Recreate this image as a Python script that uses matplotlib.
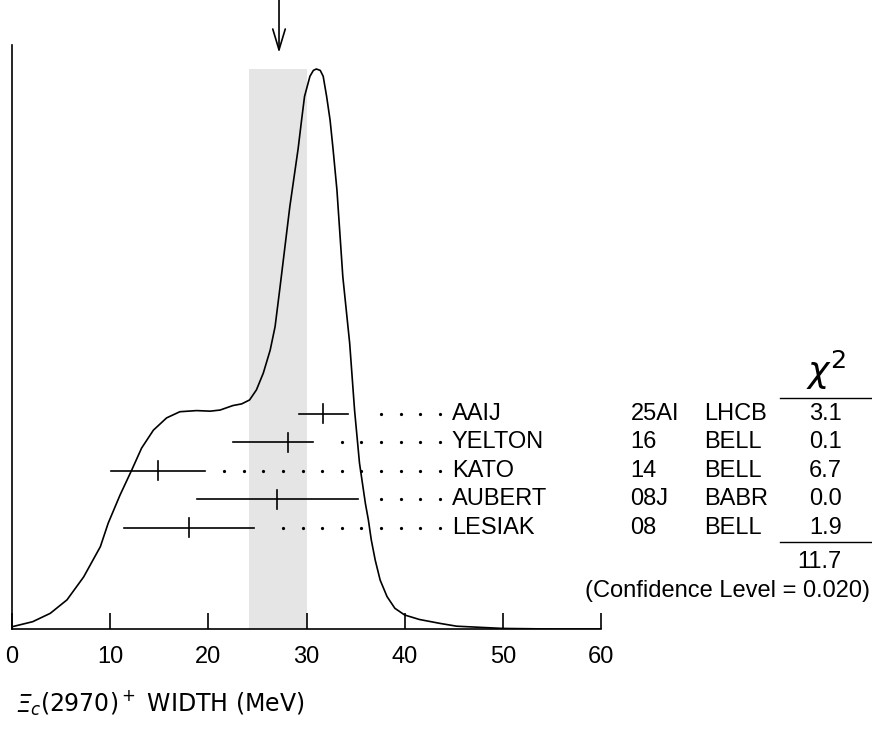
import numpy as np
import matplotlib
matplotlib.use('Agg')
import matplotlib.pyplot as plt

# ------------------------------------------------------------
# Measurements (MeV)
# ------------------------------------------------------------
names = ['AAIJ', 'YELTON', 'KATO', 'AUBERT', 'LESIAK']
years = ['25AI', '16', '14', '08J', '08']
collabs = ['LHCB', 'BELL', 'BELL', 'BABR', 'BELL']
chi2 = [3.1, 0.1, 6.7, 0.0, 1.9]
values = [31.7, 28.1, 14.9, 27.0, 18.0]
err_lo = [2.5, 5.6, 4.8, 8.2, 6.6]
err_hi = [2.5, 2.6, 4.8, 8.2, 6.7]

chi2_total = 11.7
conf_level = 0.020
avg_value = 27.2
band_lo = 24.1
band_hi = 30.1

# ideogram curve (relative height)
curve_x = [0, 2.1, 3.9, 5.6, 7.3, 9.0, 9.8, 11.0, 12.2, 13.2, 14.4, 15.75,
           17.1, 18.8, 20.2, 21.2, 22.5, 23.4, 24.2, 24.9, 25.6, 26.3, 26.8,
           27.3, 28.3, 29.15, 29.5, 29.8, 30.35, 30.7, 31.0, 31.4, 31.7,
           32.05, 32.4, 32.7, 33.1, 33.7, 34.4, 34.9, 35.4, 36.0, 36.3, 36.6,
           37.0, 37.5, 38.2, 39.0, 40.0, 41.5, 43.6, 45.3, 50, 55, 60]
curve_y = [0.004, 0.013, 0.028, 0.052, 0.093, 0.147, 0.189, 0.239, 0.284,
           0.323, 0.355, 0.377, 0.388, 0.390, 0.389, 0.391, 0.399, 0.402,
           0.409, 0.427, 0.457, 0.498, 0.540, 0.610, 0.754, 0.858, 0.909,
           0.951, 0.987, 0.9975, 1.0, 0.9975, 0.987, 0.951, 0.909, 0.858,
           0.784, 0.629, 0.51, 0.39, 0.296, 0.224, 0.195, 0.159, 0.123,
           0.0875, 0.058, 0.037, 0.025, 0.017, 0.010, 0.005, 0.001, 0.0, 0.0]

FONT = 'Liberation Sans'
FS = 17
plt.rcParams['font.family'] = FONT
plt.rcParams['mathtext.fontset'] = 'dejavusans'

W, H = 872, 731
fig = plt.figure(figsize=(W / 100, H / 100), dpi=100)
ax = fig.add_axes([12 / W, (H - 629) / H, (601 - 12) / W, (629 - 45) / H])

ax.set_xlim(0, 60)
ax.set_ylim(0, 584 / 560)

# weighted average band + curve
ax.fill_between([band_lo, band_hi], 0, 1.0, color='#e5e5e5', lw=0, zorder=0)
ax.plot(curve_x, curve_y, color='black', lw=1.2, zorder=3)

# measurements with dotted leaders
row_top = 0.384
row_step = 0.0509
dot_grid = np.arange(43.6, 0, -2.0)
for i in range(len(names)):
    y = row_top - i * row_step
    lo = values[i] - err_lo[i]
    hi = values[i] + err_hi[i]
    ax.plot([lo, hi], [y, y], color='black', lw=1.2, zorder=2)
    ax.plot([values[i], values[i]], [y - 0.017, y + 0.017], color='black', lw=1.2, zorder=2)
    dots = dot_grid[dot_grid > hi + 1.4]
    ax.plot(dots, np.full(len(dots), y), ls='none', marker='o', ms=1.3,
            color='black', zorder=2)
    ax.text(44.8, y, names[i], fontsize=FS, ha='left', va='center', clip_on=False)
    ax.text(63.0, y, years[i], fontsize=FS, ha='left', va='center', clip_on=False)
    ax.text(70.5, y, collabs[i], fontsize=FS, ha='left', va='center', clip_on=False)
    ax.text(84.5, y, f'{chi2[i]:.1f}', fontsize=FS, ha='right', va='center', clip_on=False)

# chi2 column header, rules, total
ax.text(82.9, 0.462, r'$\chi^2$', fontsize=26, ha='center', va='center', clip_on=False)
ax.plot([78.2, 87.7], [0.4125, 0.4125], color='black', lw=1.0, clip_on=False)
ax.plot([78.2, 87.7], [0.155, 0.155], color='black', lw=1.0, clip_on=False)
ax.text(84.5, 0.12, f'{chi2_total:.1f}', fontsize=FS, ha='right', va='center', clip_on=False)
ax.text(87.4, 0.068, f'(Confidence Level = {conf_level:.3f})', fontsize=FS,
        ha='right', va='center', clip_on=False)

# arrow at the average
ax.annotate('', xy=(avg_value, 1.029), xytext=(avg_value, 1.123),
            arrowprops=dict(arrowstyle='->,head_length=1.5,head_width=0.45',
                            lw=1.2, color='black', shrinkA=0, shrinkB=0),
            annotation_clip=False)

# axes styling
for side in ['top', 'right']:
    ax.spines[side].set_visible(False)
ax.spines['left'].set_linewidth(1.2)
ax.spines['bottom'].set_linewidth(1.2)
ax.set_yticks([])
ax.set_xticks([0, 10, 20, 30, 40, 50, 60])
ax.tick_params(axis='x', direction='in', length=11.5, width=1.2, pad=12, labelsize=FS)

# x label: italic Xi drawn on its own, rest follows on the same baseline
lab_x, lab_y = 16 / W, (H - 712) / H
xi = fig.text(lab_x, lab_y, 'Ξ', fontsize=FS, family='DejaVu Sans', style='italic',
              ha='left', va='baseline')
renderer = fig.canvas.get_renderer()
xi_w = xi.get_window_extent(renderer).width
fig.text(lab_x + (xi_w - 1) / W, lab_y, r'$_c$(2970)$^+$ WIDTH (MeV)',
         fontsize=FS, family='DejaVu Sans', ha='left', va='baseline')

fig.savefig('out.png', dpi=100, facecolor='white')
